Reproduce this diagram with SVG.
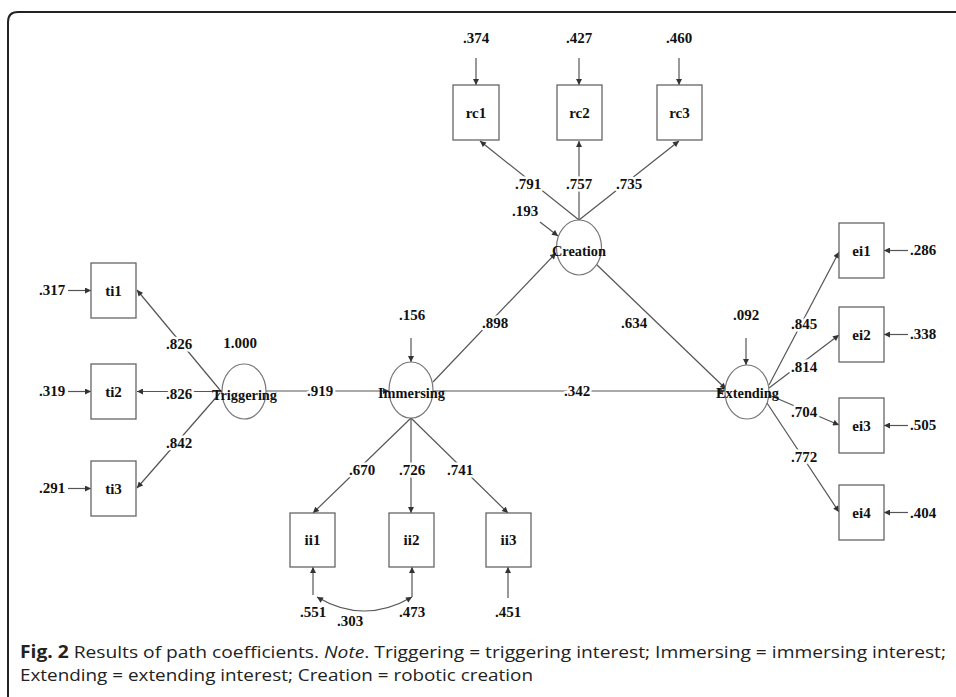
<svg xmlns="http://www.w3.org/2000/svg" width="956" height="697" viewBox="0 0 956 697">
<defs>
<marker id="arr" viewBox="0 0 10 10" refX="10" refY="5" markerWidth="7" markerHeight="6" markerUnits="userSpaceOnUse" orient="auto-start-reverse">
<path d="M0,0 L10,5 L0,10 z" fill="#333"/>
</marker>
<style>
.ln{stroke:#555;stroke-width:1.2;fill:none}
.ar{stroke:#555;stroke-width:1.2;fill:none;marker-end:url(#arr)}
.bx{fill:#fff;stroke:#666;stroke-width:1.3}
.el{fill:#fff;stroke:#777;stroke-width:1.2}
.nt{font-family:"Liberation Serif","Times New Roman",serif;font-weight:bold;font-size:15px;fill:#111;text-anchor:middle}
.lb{font-family:"Liberation Serif","Times New Roman",serif;font-weight:bold;font-size:15px;fill:#111;text-anchor:middle;stroke:#fff;stroke-width:5;stroke-linejoin:round;paint-order:stroke}
.cap{font-family:"Liberation Sans Narrow","Open Sans",sans-serif;font-size:17px;fill:#222}
</style>
</defs>
<rect width="956" height="697" fill="#fff"/>
<path d="M8 697 V22 Q8 12 18 12 H956" fill="none" stroke="#222" stroke-width="2"/>

<g id="connectors">
<line class="ar" x1="476" y1="58" x2="476" y2="85"/>
<line class="ar" x1="579" y1="58" x2="579" y2="85"/>
<line class="ar" x1="679" y1="58" x2="679" y2="85"/>
<line class="ar" x1="68" y1="290.5" x2="91" y2="290.5"/>
<line class="ar" x1="68" y1="391.5" x2="91" y2="391.5"/>
<line class="ar" x1="68" y1="488.5" x2="91" y2="488.5"/>
<line class="ar" x1="908" y1="250.5" x2="884" y2="250.5"/>
<line class="ar" x1="908" y1="334.5" x2="884" y2="334.5"/>
<line class="ar" x1="908" y1="425.5" x2="884" y2="425.5"/>
<line class="ar" x1="908" y1="512.5" x2="884" y2="512.5"/>
<line class="ar" x1="313" y1="595" x2="313" y2="567"/>
<line class="ar" x1="412" y1="597" x2="412" y2="567"/>
<line class="ar" x1="508" y1="598" x2="508" y2="567"/>
<path class="ar" style="marker-start:url(#arr)" d="M317 597 Q364 625 412 597"/>
<line class="ar" x1="540" y1="222" x2="558" y2="236"/>
<line class="ar" x1="411" y1="338" x2="411" y2="362"/>
<line class="ar" x1="746" y1="338" x2="746" y2="365"/>
<line class="ar" x1="579" y1="220" x2="480" y2="141"/>
<line class="ar" x1="579" y1="220" x2="579" y2="141"/>
<line class="ar" x1="579" y1="220" x2="679" y2="141"/>
<line class="ar" x1="220" y1="390" x2="137" y2="290"/>
<line class="ar" x1="222" y1="391.5" x2="137" y2="391.5"/>
<line class="ar" x1="220" y1="393" x2="137" y2="488"/>
<line class="ar" x1="411" y1="418" x2="313" y2="513"/>
<line class="ar" x1="411" y1="418" x2="411" y2="513"/>
<line class="ar" x1="411" y1="418" x2="508" y2="513"/>
<line class="ar" x1="769" y1="385" x2="839" y2="252"/>
<line class="ar" x1="769" y1="388" x2="839" y2="335"/>
<line class="ar" x1="769" y1="395" x2="839" y2="425"/>
<line class="ar" x1="767" y1="403" x2="839" y2="512"/>
<line class="ar" x1="266" y1="391" x2="389" y2="391"/>
<line class="ar" x1="433" y1="382" x2="556" y2="253"/>
<line class="ar" x1="433" y1="391" x2="725" y2="391"/>
<line class="ar" x1="596" y1="264" x2="726" y2="389"/>
</g>

<g id="rc1"><rect class="bx" x="453" y="85" width="46" height="55"/><text class="nt" x="476" y="118">rc1</text></g>
<g id="rc2"><rect class="bx" x="557" y="85" width="45" height="55"/><text class="nt" x="579.5" y="118">rc2</text></g>
<g id="rc3"><rect class="bx" x="657" y="85" width="45" height="55"/><text class="nt" x="679.5" y="118">rc3</text></g>
<g id="ti1"><rect class="bx" x="91" y="263" width="45" height="55"/><text class="nt" x="113.5" y="296">ti1</text></g>
<g id="ti2"><rect class="bx" x="91" y="364" width="45" height="55"/><text class="nt" x="113.5" y="397">ti2</text></g>
<g id="ti3"><rect class="bx" x="91" y="461" width="45" height="55"/><text class="nt" x="113.5" y="494">ti3</text></g>
<g id="ei1"><rect class="bx" x="839" y="223" width="45" height="55"/><text class="nt" x="861.5" y="256">ei1</text></g>
<g id="ei2"><rect class="bx" x="839" y="307" width="45" height="55"/><text class="nt" x="861.5" y="340">ei2</text></g>
<g id="ei3"><rect class="bx" x="839" y="398" width="45" height="55"/><text class="nt" x="861.5" y="431">ei3</text></g>
<g id="ei4"><rect class="bx" x="839" y="485" width="45" height="55"/><text class="nt" x="861.5" y="518">ei4</text></g>
<g id="ii1"><rect class="bx" x="290" y="513" width="45" height="54"/><text class="nt" x="312.5" y="545">ii1</text></g>
<g id="ii2"><rect class="bx" x="389" y="513" width="45" height="54"/><text class="nt" x="411.5" y="545">ii2</text></g>
<g id="ii3"><rect class="bx" x="486" y="513" width="45" height="54"/><text class="nt" x="508.5" y="545">ii3</text></g>

<g id="Creation"><ellipse class="el" cx="579" cy="247.5" rx="22.5" ry="27.5"/><text class="nt" x="579" y="256" textLength="54" lengthAdjust="spacingAndGlyphs">Creation</text></g>
<g id="Triggering"><ellipse class="el" cx="244" cy="391.5" rx="22" ry="27.5"/><text class="nt" x="244.5" y="400" textLength="65" lengthAdjust="spacingAndGlyphs">Triggering</text></g>
<g id="Immersing"><ellipse class="el" cx="411" cy="390" rx="22" ry="28"/><text class="nt" x="411.5" y="398" textLength="67" lengthAdjust="spacingAndGlyphs">Immersing</text></g>
<g id="Extending"><ellipse class="el" cx="747" cy="392" rx="22" ry="27"/><text class="nt" x="747.5" y="398" textLength="63" lengthAdjust="spacingAndGlyphs">Extending</text></g>

<g id="labels">
<text class="lb" x="476" y="43">.374</text>
<text class="lb" x="579" y="43">.427</text>
<text class="lb" x="679" y="43">.460</text>
<text class="lb" x="52" y="295">.317</text>
<text class="lb" x="52" y="396">.319</text>
<text class="lb" x="52" y="493">.291</text>
<text class="lb" x="923" y="255">.286</text>
<text class="lb" x="923" y="339">.338</text>
<text class="lb" x="923" y="430">.505</text>
<text class="lb" x="923" y="518">.404</text>
<text class="lb" x="313" y="617">.551</text>
<text class="lb" x="350" y="626">.303</text>
<text class="lb" x="412" y="617">.473</text>
<text class="lb" x="508" y="617">.451</text>
<text class="lb" x="525" y="216">.193</text>
<text class="lb" x="412" y="320">.156</text>
<text class="lb" x="746" y="320">.092</text>
<text class="lb" x="240" y="348">1.000</text>
<text class="lb" x="528" y="189">.791</text>
<text class="lb" x="579" y="189">.757</text>
<text class="lb" x="629" y="189">.735</text>
<text class="lb" x="179" y="349">.826</text>
<text class="lb" x="179" y="399">.826</text>
<text class="lb" x="179" y="448">.842</text>
<text class="lb" x="320" y="396">.919</text>
<text class="lb" x="495" y="328">.898</text>
<text class="lb" x="577" y="396">.342</text>
<text class="lb" x="634" y="328">.634</text>
<text class="lb" x="362" y="475">.670</text>
<text class="lb" x="412" y="475">.726</text>
<text class="lb" x="460" y="475">.741</text>
<text class="lb" x="804" y="329">.845</text>
<text class="lb" x="804" y="372">.814</text>
<text class="lb" x="804" y="417">.704</text>
<text class="lb" x="804" y="462">.772</text>
</g>

<g id="caption">
<text class="cap" x="20" y="658" textLength="926" lengthAdjust="spacingAndGlyphs"><tspan font-weight="bold">Fig. 2</tspan> Results of path coefficients. <tspan font-style="italic">Note</tspan>. Triggering = triggering interest; Immersing = immersing interest;</text>
<text class="cap" x="20" y="681" textLength="513" lengthAdjust="spacingAndGlyphs">Extending = extending interest; Creation = robotic creation</text>
</g>
</svg>
